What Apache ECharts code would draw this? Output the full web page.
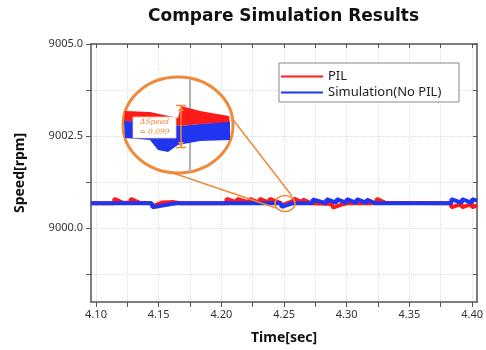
<!DOCTYPE html>
<html>
<head>
<meta charset="utf-8">
<script src="https://cdn.jsdelivr.net/npm/echarts@6/dist/echarts.min.js"></script>
<style>html,body{margin:0;padding:0;background:#fff}#c{width:486px;height:350px}</style>
</head>
<body>
<div id="c"></div>
<script>
// ---- data ----
const titleText = 'Compare Simulation Results';
const seriesNames = ['PIL', 'Simulation(No PIL)'];
const xTickValues = [4.10,4.125,4.15,4.175,4.20,4.225,4.25,4.275,4.30,4.325,4.35,4.375,4.40];
const xLabelValues = [4.10,4.15,4.20,4.25,4.30,4.35,4.40];
const yTickValues = [8998.75,9000,9001.25,9002.5,9003.75,9005];
const yLabelValues = [9000,9002.5,9005];

const pilTime = [4.096,4.1145,4.1146,4.1215,4.1275,4.1276,4.1350,4.1440,4.1455,4.1530,4.1620,4.1680,
  4.2040,4.2041,4.2125,4.2126,4.2220,4.2226,4.2300,4.2306,4.2380,4.2385,4.2470,4.2480,4.2560,4.2584,
  4.2645,4.2650,4.2720,4.2880,4.2890,4.2960,4.3000,4.3237,4.3238,4.3310,4.3830,4.3835,4.3915,4.3920,
  4.3998,4.4000,4.4040];
const pilSpeed = [9000.68,9000.68,9000.80,9000.69,9000.69,9000.80,9000.69,9000.68,9000.60,9000.70,9000.71,9000.68,
  9000.68,9000.80,9000.70,9000.80,9000.70,9000.80,9000.70,9000.80,9000.70,9000.80,9000.69,9000.62,9000.72,9000.80,
  9000.70,9000.78,9000.68,9000.66,9000.56,9000.64,9000.68,9000.68,9000.80,9000.69,9000.68,9000.57,9000.66,9000.57,
  9000.66,9000.57,9000.62];

const simTime = [4.096,4.1445,4.1450,4.1600,4.1650,4.2475,4.2480,4.2560,4.2600,4.2727,4.2728,4.2838,4.2840,
  4.2918,4.2920,4.2998,4.3000,4.3078,4.3080,4.3158,4.3160,4.3230,4.3834,4.3835,4.3918,4.3920,4.3998,4.4000,4.4040];
const simSpeed = [9000.68,9000.68,9000.57,9000.66,9000.68,9000.68,9000.58,9000.67,9000.68,9000.68,9000.78,9000.68,9000.79,
  9000.69,9000.79,9000.69,9000.79,9000.69,9000.79,9000.69,9000.78,9000.68,9000.68,9000.79,9000.69,9000.79,9000.69,9000.79,9000.75];

const annoText = ['ΔSpeed', '= 0.099'];

// ---- chart ----
const zip = (a, b) => a.map((v, i) => [v, b[i]]);
const axisColor = '#555';
const orange = '#EE8A3A';
const chart = echarts.init(document.getElementById('c'), null, {renderer: 'canvas'});

const baseX = {
  type: 'value', min: 4.096, max: 4.404,
  axisLine: {show: true, onZero: false, lineStyle: {color: axisColor, width: 1.5}},
};
const baseY = {
  type: 'value', min: 8998, max: 9005,
  axisLine: {show: true, onZero: false, lineStyle: {color: axisColor, width: 1.5}},
};

chart.setOption({
  animation: false,
  backgroundColor: '#fff',
  title: {
    text: titleText, left: 143, top: 3,
    textStyle: {fontFamily: 'DejaVu Sans', fontWeight: 'bold', fontSize: 17, color: '#111'}
  },
  grid: {left: 91, right: 8, top: 44, bottom: 47, containLabel: false},
  legend: {
    orient: 'vertical', left: 276, top: 65, z: 10,
    itemWidth: 42, itemHeight: 2, itemGap: 3, icon: 'rect',
    textStyle: {fontFamily: 'Noto Sans', fontSize: 13, color: '#222'},
    data: seriesNames
  },
  xAxis: [
    Object.assign({}, baseX, {
      position: 'bottom',
      name: 'Time[sec]', nameLocation: 'middle', nameGap: 29,
      nameTextStyle: {fontFamily: 'Noto Sans', fontWeight: 'bold', fontSize: 14, color: '#111'},
      axisTick: {show: true, inside: false, length: 5, customValues: xTickValues, lineStyle: {color: axisColor}},
      axisLabel: {show: true, customValues: xLabelValues, margin: 7, fontFamily: 'Noto Sans', fontSize: 11, color: '#333',
        formatter: v => Number(v).toFixed(2)},
      splitLine: {show: true, lineStyle: {color: '#dcdcdc', type: 'dotted', width: 1}}
    }),
    Object.assign({}, baseX, {
      position: 'top',
      axisTick: {show: true, inside: true, length: 4, customValues: xTickValues, lineStyle: {color: axisColor}},
      axisLabel: {show: false},
      splitLine: {show: false}
    })
  ],
  yAxis: [
    Object.assign({}, baseY, {
      position: 'left',
      name: 'Speed[rpm]', nameLocation: 'middle', nameGap: 64,
      nameTextStyle: {fontFamily: 'Noto Sans', fontWeight: 'bold', fontSize: 14, color: '#111'},
      axisTick: {show: true, inside: false, length: 5, customValues: yTickValues, lineStyle: {color: axisColor}},
      axisLabel: {show: true, customValues: yLabelValues, margin: 8, fontFamily: 'Noto Sans', fontSize: 11, color: '#333',
        formatter: v => Number(v).toFixed(1)},
      splitLine: {show: true, lineStyle: {color: '#dcdcdc', type: 'dotted', width: 1}}
    }),
    Object.assign({}, baseY, {
      position: 'right',
      axisTick: {show: true, inside: true, length: 4, customValues: yTickValues, lineStyle: {color: axisColor}},
      axisLabel: {show: false},
      splitLine: {show: false}
    })
  ],
  series: [
    {name: seriesNames[0], type: 'line', xAxisIndex: 0, yAxisIndex: 0, showSymbol: false, symbol: 'none',
     color: '#FF1A1A', lineStyle: {width: 4, color: '#FF1A1A'}, data: zip(pilTime, pilSpeed), z: 3},
    {name: seriesNames[1], type: 'line', xAxisIndex: 0, yAxisIndex: 0, showSymbol: false, symbol: 'none',
     color: '#1F35F0', lineStyle: {width: 4, color: '#1F35F0'}, data: zip(simTime, simSpeed), z: 4}
  ],
  graphic: [
    // legend frame
    {type: 'rect', z: 5, shape: {x: 279, y: 63, width: 180, height: 39},
     style: {fill: '#fff', stroke: '#888', lineWidth: 1}},
    // connector lines
    {type: 'line', z: 6, shape: {x1: 231, y1: 117, x2: 292, y2: 196}, style: {stroke: orange, lineWidth: 1.5}},
    {type: 'line', z: 6, shape: {x1: 170, y1: 172, x2: 276, y2: 208}, style: {stroke: orange, lineWidth: 1.5}},
    // small circle
    {type: 'ellipse', z: 7, shape: {cx: 285, cy: 203.5, rx: 10, ry: 8}, style: {fill: 'none', stroke: orange, lineWidth: 1.5}},
    // big inset ellipse
    {type: 'ellipse', z: 6, shape: {cx: 178, cy: 125, rx: 55, ry: 48}, style: {fill: 'rgba(255,255,255,0.9)', stroke: orange, lineWidth: 3}},
    {type: 'line', z: 7, shape: {x1: 190, y1: 79, x2: 190, y2: 172}, style: {stroke: '#b0b0b0', lineWidth: 2}},
    {type: 'polygon', z: 8, shape: {points: [[125,111],[150,112],[178,118],[181,106],[200,111],[229,116],[230,123],[200,124],[181,126],[160,122],[124,121]]},
     style: {fill: '#FF1A1A'}},
    {type: 'polygon', z: 8, shape: {points: [[124,121],[160,122],[181,126],[200,124],[230,122],[230,140],[200,141],[178,145],[168,152],[158,150],[150,140],[125,138]]},
     style: {fill: '#1F35F0'}},
    // arrow
    {type: 'line', z: 9, shape: {x1: 181, y1: 106, x2: 181, y2: 147}, style: {stroke: orange, lineWidth: 1.5}},
    {type: 'line', z: 9, shape: {x1: 176, y1: 105.5, x2: 186, y2: 105.5}, style: {stroke: orange, lineWidth: 1.5}},
    {type: 'line', z: 9, shape: {x1: 176, y1: 147.5, x2: 186, y2: 147.5}, style: {stroke: orange, lineWidth: 1.5}},
    {type: 'polygon', z: 9, shape: {points: [[178,111],[181,106],[184,111]]}, style: {fill: orange}},
    {type: 'polygon', z: 9, shape: {points: [[178,142],[181,147],[184,142]]}, style: {fill: orange}},
    // label box
    {type: 'rect', z: 9, shape: {x: 133, y: 117, width: 43, height: 21}, style: {fill: '#fff', stroke: '#f3c9a8', lineWidth: 0.8}},
    {type: 'text', z: 10, style: {x: 154.5, y: 122, text: annoText[0], align: 'center', verticalAlign: 'middle',
      font: 'italic 7.5px "DejaVu Serif"', fill: orange}},
    {type: 'text', z: 10, style: {x: 154.5, y: 132, text: annoText[1], align: 'center', verticalAlign: 'middle',
      font: 'italic 7.5px "DejaVu Serif"', fill: orange}}
  ]
});
</script>
</body>
</html>
